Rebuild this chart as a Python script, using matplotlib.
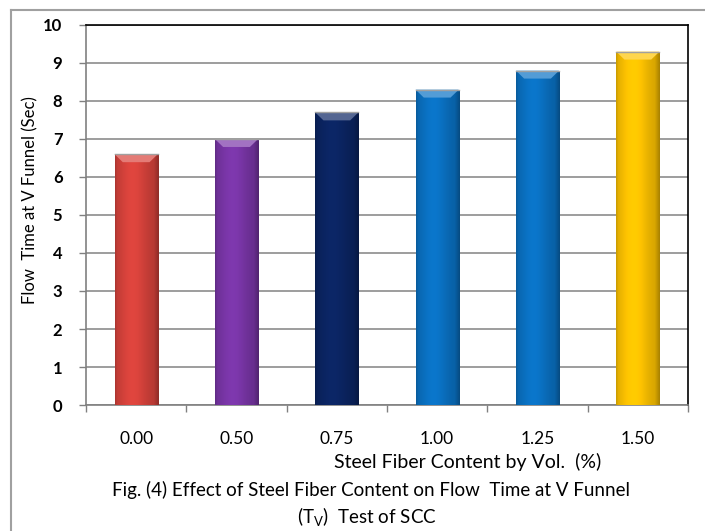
import matplotlib
matplotlib.use("Agg")
import matplotlib.pyplot as plt
import numpy as np
from matplotlib.colors import to_rgb
from matplotlib.patches import Polygon
from matplotlib.lines import Line2D

categories = ["0.00", "0.50", "0.75", "1.00", "1.25", "1.50"]
values = [6.6, 7.0, 7.7, 8.3, 8.8, 9.3]
colors = ["#D8433C", "#7A36A8", "#0B2563", "#0A72C4", "#0A72C4", "#FFC400"]
yticks = list(range(0, 11))

plt.rcParams['font.family'] = ['Lato', 'DejaVu Sans']

fig = plt.figure(figsize=(7.05, 5.31), dpi=100)
ax = fig.add_axes([86/705, 1-405/531, (688-86)/705, (405-25)/531])

x = np.arange(len(categories))
w = 0.43
bars = ax.bar(x, values, width=w, color=colors, zorder=3, edgecolor='none')

# shading gradient on each bar
prof = np.linspace(0, 1, 64)
shade = 0.82 + 0.22*np.exp(-((prof-0.4)/0.35)**2)
shade[-8:] *= np.linspace(1, 0.8, 8)
shade[:4] *= np.linspace(0.9, 1, 4)
for b, c in zip(bars, colors):
    rgb = np.array(to_rgb(c))
    img = np.clip(rgb[None, None, :]*shade[None, :, None], 0, 1)
    x0, y0 = b.get_x(), b.get_y()
    bw, bh = b.get_width(), b.get_height()
    im = ax.imshow(img, extent=[x0, x0+bw, y0, y0+bh], aspect='auto',
                   zorder=4, interpolation='bilinear')
    im.set_clip_path(b)
    # top bevel
    bev = 0.21
    light = np.clip(rgb + (1-rgb)*0.3, 0, 1)
    ax.add_patch(Polygon([[x0, y0+bh], [x0+bw, y0+bh],
                          [x0+bw*0.81, y0+bh-bev], [x0+bw*0.19, y0+bh-bev]],
                         closed=True, facecolor=light, edgecolor='none', zorder=5))
    ax.plot([x0, x0+bw], [y0+bh, y0+bh], color='#a0a0a0', lw=1.0, zorder=6)

ax.set_xlim(-0.5, len(categories)-0.5)
ax.set_ylim(0, 10)
ax.set_yticks(yticks)
ax.set_yticklabels([str(t) for t in yticks], fontweight='bold', fontsize=12)
ax.set_xticks(x)
ax.set_xticklabels(categories, fontsize=12.5)
ax.tick_params(axis='x', length=0, pad=19)
ax.set_xticks(np.arange(-0.5, len(categories)), minor=True)
ax.tick_params(axis='x', which='minor', length=5, color='#808080', width=1)
ax.tick_params(axis='y', length=5, color='#808080', width=1, pad=12)
ax.grid(axis='y', color='#8c8c8c', lw=1.2, zorder=1)
ax.set_axisbelow(True)

for s in ['left', 'bottom']:
    ax.spines[s].set_color('#808080')
    ax.spines[s].set_linewidth(1.2)
for s in ['top', 'right']:
    ax.spines[s].set_color('black')
    ax.spines[s].set_linewidth(1.2)

fig.text(30/705, 1-200/531, "Flow  Time at V Funnel (Sec)", fontsize=12,
         rotation=90, ha='center', va='center')

fig.text(468/705, 1-462/531, "Steel Fiber Content by Vol.  (%)", fontsize=14,
         ha='center', va='center')
fig.text(371/705, 1-490/531, "Fig. (4) Effect of Steel Fiber Content on Flow  Time at V Funnel",
         fontsize=13.5, ha='center', va='center')
fig.text(367/705, 1-516/531, r"(T$\mathregular{_V}$)  Test of SCC", fontsize=13.5,
         ha='center', va='center')

# outer frame
fig.add_artist(Line2D([11/705, 11/705], [0, 1-10/531], color='#a0a0a0', lw=1.5,
                      transform=fig.transFigure))
fig.add_artist(Line2D([11/705, 1], [1-10/531, 1-10/531], color='#a0a0a0', lw=1.5,
                      transform=fig.transFigure))

fig.savefig("out.png", dpi=100)
